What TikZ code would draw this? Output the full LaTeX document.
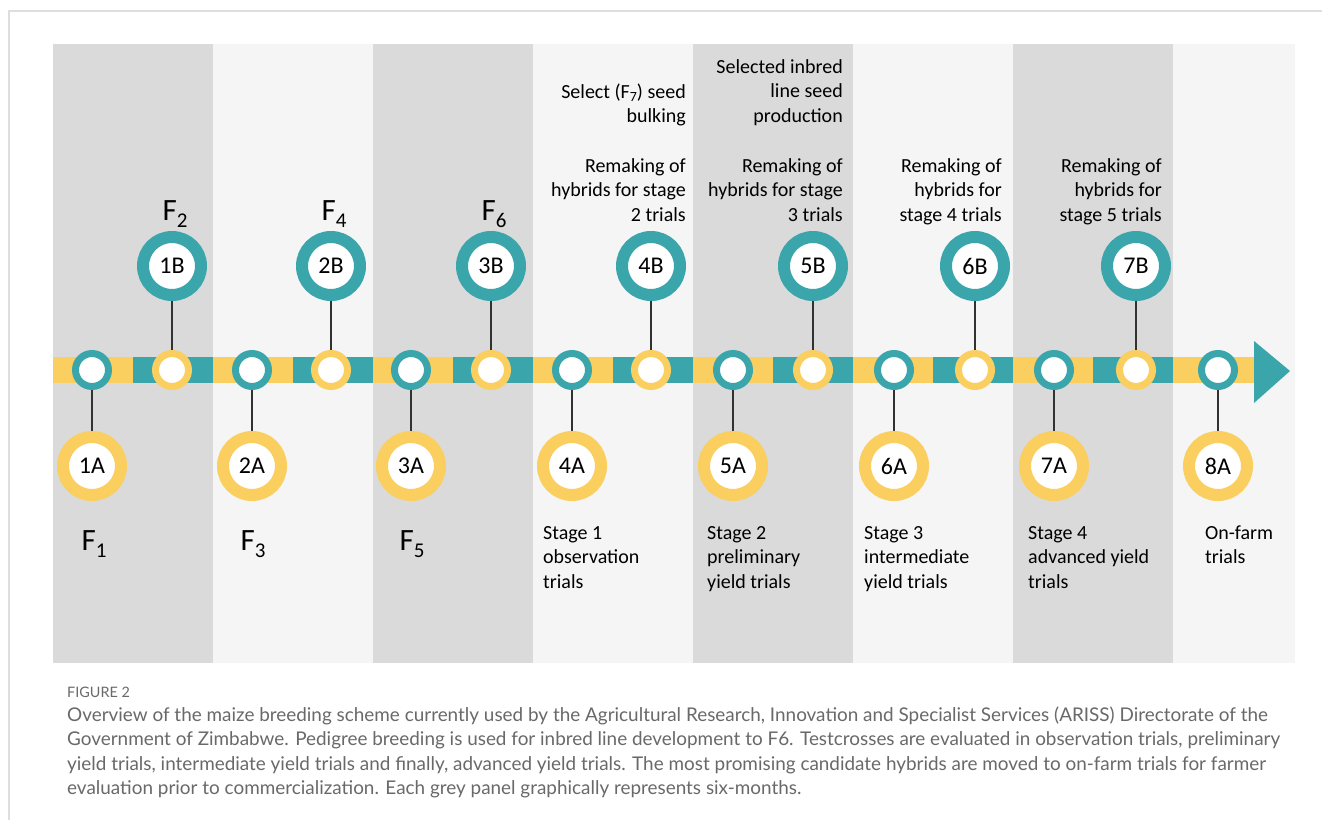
\documentclass[tikz,border=0pt]{standalone}
\usepackage{fontspec}
\setmainfont{Carlito}
\newfontfamily\capfont{Lato}
\definecolor{myteal}{RGB}{58,166,171}
\definecolor{myyellow}{RGB}{250,206,95}
\definecolor{pdark}{RGB}{218,218,218}
\definecolor{plight}{RGB}{245,245,245}
\definecolor{linec}{RGB}{50,50,50}
\definecolor{framec}{RGB}{222,222,222}
\definecolor{capc}{RGB}{105,105,105}
\newcommand\Fsub[1]{F\raisebox{-7pt}{\fontsize{21}{21}\selectfont #1}}
\newcommand\rlines[1]{\begin{tabular}[t]{@{}r@{}}#1\end{tabular}}
\newcommand\llines[1]{\begin{tabular}[t]{@{}l@{}}#1\end{tabular}}
\begin{document}
\begin{tikzpicture}[x=1pt,y=-1pt,
  acirc/.style={circle, draw=myyellow, line width=12pt, fill=white, minimum size=58pt, inner sep=0pt, outer sep=6pt, font=\fontsize{24}{24}\selectfont},
  bcirc/.style={acirc, draw=myteal},
  sa/.style={circle, draw=myteal, line width=7pt, fill=white, minimum size=33pt, inner sep=0pt, outer sep=3.5pt},
  sb/.style={sa, draw=myyellow},
  conn/.style={draw=linec, line width=1.5pt},
  lbl/.style={inner sep=0pt, font=\fontsize{20}{24.5}\selectfont},
  flbl/.style={inner sep=0pt, anchor=base, font=\fontsize{31}{31}\selectfont}]
\useasboundingbox (0,0) rectangle (1322,820);
\fill[white] (0,0) rectangle (1322,820);
\draw[framec, line width=2pt] (9,820) -- (9,11) -- (1322,11);
% panels
\foreach \i in {0,2,4,6} {\fill[pdark] (52.5+160*\i,44) rectangle (212.5+160*\i,663);}
\foreach \i in {1,3,5} {\fill[plight] (52.5+160*\i,44) rectangle (212.5+160*\i,663);}
\fill[plight] (1172.5,44) rectangle (1295,663);
% bar
\foreach \i in {0,...,6} {
  \fill[myyellow] (52.5+160*\i,357) rectangle (132.5+160*\i,383);
  \fill[myteal] (132.5+160*\i,357) rectangle (212.5+160*\i,383);
}
\fill[myyellow] (1172.5,357) rectangle (1256,383);
\fill[myteal] (1254,341) -- (1290,371) -- (1254,403) -- cycle;
% small circles
\foreach \n/\x in {1/92,2/252,3/411,4/572,5/733,6/894,7/1054,8/1218} {\node[sa] (sa\n) at (\x,370) {};}
\foreach \n/\x in {1/172,2/331,3/491,4/651,5/813,6/975,7/1136} {\node[sb] (sb\n) at (\x,370) {};}
% big circles
\foreach \n/\x in {1/92,2/252,3/411,4/572,5/733,6/894,7/1054,8/1218} {\node[acirc] (a\n) at (\x,466) {\n A};}
\foreach \n/\x in {1/172,2/331,3/491,4/651,5/813,6/975,7/1136} {\node[bcirc] (b\n) at (\x,266) {\n B};}
\foreach \n in {1,...,8} {\draw[conn] (sa\n) -- (a\n);}
\foreach \n in {1,...,7} {\draw[conn] (b\n) -- (sb\n);}
% F labels
\node[flbl] (f1) at (94,550) {\Fsub{1}};
\node[flbl] (f3) at (253,550) {\Fsub{3}};
\node[flbl] (f5) at (412,550) {\Fsub{5}};
\node[flbl] (f2) at (175,220) {\Fsub{2}};
\node[flbl] (f4) at (334,220) {\Fsub{4}};
\node[flbl] (f6) at (494,220) {\Fsub{6}};
% top texts
\node[lbl, anchor=base east] (t4b1) at (686,98) {\rlines{Select (F\raisebox{-3pt}{\fontsize{14}{14}\selectfont 7}) seed\\bulking}};
\node[lbl, anchor=base east] (t4b2) at (686,172) {\rlines{Remaking of\\hybrids for stage\\2 trials}};
\node[lbl, anchor=base east] (t5b1) at (843,73) {\rlines{Selected inbred\\line seed\\production}};
\node[lbl, anchor=base east] (t5b2) at (843,172) {\rlines{Remaking of\\hybrids for stage\\3 trials}};
\node[lbl, anchor=base east] (t6b) at (1002,172) {\rlines{Remaking of\\hybrids for\\stage 4 trials}};
\node[lbl, anchor=base east] (t7b) at (1162,172) {\rlines{Remaking of\\hybrids for\\stage 5 trials}};
% bottom texts
\node[lbl, anchor=base west] (t4a) at (543,539) {\llines{Stage 1\\observation\\trials}};
\node[lbl, anchor=base west] (t5a) at (707,539) {\llines{Stage 2\\preliminary\\yield trials}};
\node[lbl, anchor=base west] (t6a) at (864,539) {\llines{Stage 3\\intermediate\\yield trials}};
\node[lbl, anchor=base west] (t7a) at (1028,539) {\llines{Stage 4\\advanced yield\\trials}};
\node[lbl, anchor=base west] (t8a) at (1205,539) {\llines{On-farm\\trials}};
% caption
\node[inner sep=0pt, anchor=base west, text=capc, font=\capfont\fontsize{14.4}{14.4}\selectfont] (figlbl) at (67,697) {FIGURE 2};
\node[inner sep=0pt, anchor=base west, text=capc, font=\capfont\fontsize{18.9}{24.5}\selectfont] (cap) at (67,721) {\llines{Overview of the maize breeding scheme currently used by the Agricultural Research, Innovation and Specialist Services (ARISS) Directorate of the\\Government of Zimbabwe. Pedigree breeding is used for inbred line development to F6. Testcrosses are evaluated in observation trials, preliminary\\yield trials, intermediate yield trials and finally, advanced yield trials. The most promising candidate hybrids are moved to on-farm trials for farmer\\evaluation prior to commercialization. Each grey panel graphically represents six-months.}};
\end{tikzpicture}
\end{document}
